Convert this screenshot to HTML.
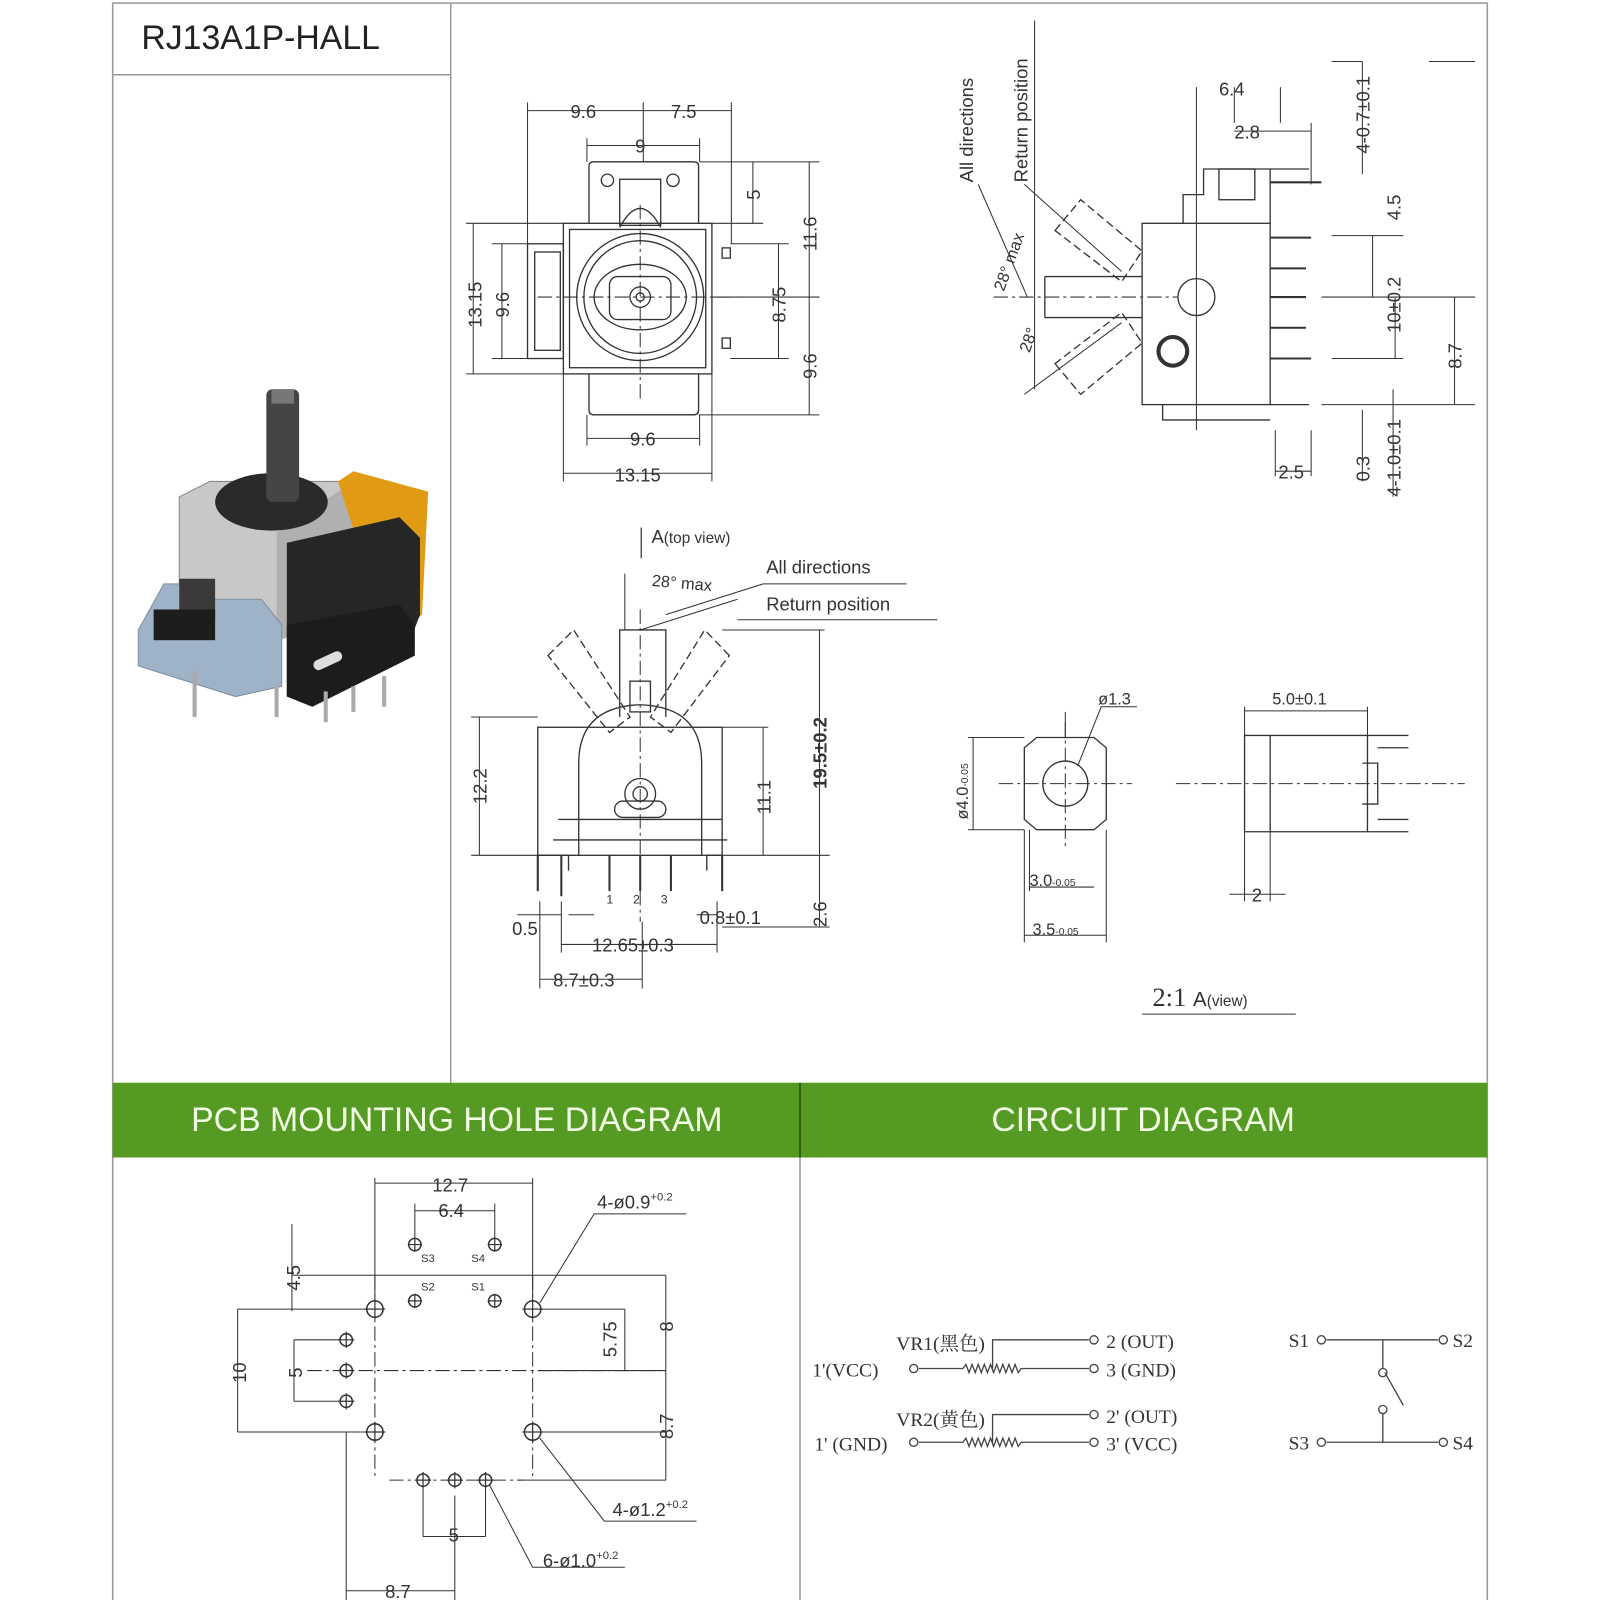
<!DOCTYPE html>
<html><head><meta charset="utf-8"><style>
html,body{margin:0;padding:0;background:#fff;}
svg{display:block;}
text{font-family:"Liberation Sans",sans-serif;fill:#333;}
.s{font-family:"Liberation Serif","Noto Serif CJK SC",serif;}
</style></head><body>
<svg width="1600" height="1600" viewBox="0 0 1562 1562" xmlns="http://www.w3.org/2000/svg">
<g fill="none" stroke="#999" stroke-width="1.5">
<rect x="110" y="3" width="1342" height="1562"/>
<line x1="110" y1="73" x2="440" y2="73"/>
<line x1="440" y1="3" x2="440" y2="1057"/>
<line x1="781" y1="1130" x2="781" y2="1565"/>
</g>
<rect x="110" y="1057" width="1342" height="73" fill="#559a22"/>
<line x1="781" y1="1057" x2="781" y2="1130" stroke="#2f5f10" stroke-width="2"/>
<text x="138" y="48" font-size="33" style="fill:#222">RJ13A1P-HALL</text>
<text x="446" y="1104" font-size="33" text-anchor="middle" style="fill:#f2ffe6">PCB MOUNTING HOLE DIAGRAM</text>
<text x="1116" y="1104" font-size="33" text-anchor="middle" style="fill:#f2ffe6">CIRCUIT DIAGRAM</text>

<!-- photo -->
<g>
<polygon points="175,485 205,470 345,470 345,600 270,625 175,600" fill="#c8c8c8" stroke="#888"/>
<polygon points="270,520 345,470 345,600 270,625" fill="#b0b0b0"/>
<polygon points="330,470 345,460 418,480 412,600 385,625 375,610" fill="#e19a14"/>
<ellipse cx="265" cy="490" rx="55" ry="28" fill="#2a2a2a"/>
<rect x="260" y="380" width="32" height="110" rx="6" fill="#454545"/>
<rect x="265" y="380" width="22" height="14" fill="#777"/>
<polygon points="280,530 390,505 410,525 410,600 395,640 305,690 280,680" fill="#262626"/>
<polygon points="280,610 390,590 405,610 405,640 305,690 280,680" fill="#1c1c1c"/>
<rect x="305" y="640" width="30" height="10" rx="5" fill="#ddd" transform="rotate(-25 320 645)"/>
<polygon points="135,615 160,570 190,570 200,585 255,585 275,610 275,670 230,680 135,650" fill="#9fb3c8" stroke="#7d8fa0"/>
<rect x="175" y="565" width="35" height="40" fill="#3a3a3a"/>
<rect x="150" y="595" width="60" height="30" fill="#1d1d1d"/>
<g stroke="#aaa" stroke-width="4"><line x1="190" y1="655" x2="190" y2="700"/><line x1="270" y1="670" x2="270" y2="700"/><line x1="318" y1="675" x2="318" y2="705"/><line x1="345" y1="670" x2="345" y2="695"/><line x1="375" y1="660" x2="375" y2="690"/></g>
</g>

<g fill="none" stroke="#333" stroke-width="1.3">
<!-- top view -->
<rect x="550" y="218" width="145" height="147"/>
<rect x="556" y="224" width="133" height="135"/>
<path d="M575,218 V162 Q575,158 580,158 H677 Q682,158 682,162 V218"/>
<rect x="515" y="238" width="35" height="112"/>
<rect x="522" y="246" width="25" height="96"/>
<path d="M575,365 V400 Q575,405 580,405 H677 Q682,405 682,400 V365"/>
<circle cx="625" cy="290" r="62"/><circle cx="625" cy="290" r="55"/>
<ellipse cx="625" cy="290" rx="45" ry="32"/>
<rect x="595" y="270" width="60" height="42" rx="8"/>
<circle cx="625" cy="290" r="10"/><circle cx="625" cy="290" r="4"/>
<path d="M605,222 Q625,185 645,222"/><rect x="605" y="175" width="40" height="45"/>
<circle cx="593" cy="176" r="6"/><circle cx="657" cy="176" r="6"/>
<rect x="705" y="242" width="8" height="10"/><rect x="705" y="330" width="8" height="10"/>
<g stroke-width="1"><path d="M515,100 V238 M628,100 V158 M714,100 V238 M573,135 V158 M683,135 V158 M683,158 H745 M695,218 H745 M695,290 H800 M713,238 H770 M713,350 H770 M682,405 H800 M683,158 H800 M455,218 H550 M455,365 H550 M480,238 H515 M480,350 H515 M550,365 V470 M695,365 V470 M573,405 V435 M683,405 V435"/>
<path d="M515,108 H714 M573,142 H683 M735,158 V218 M790,158 V405 M760,238 V350 M462,218 V365 M490,238 V350 M573,428 H683 M550,462 H695"/></g>
<path d="M525,290 H720 M625,200 V390" stroke-dasharray="14,4,3,4" stroke-width="1"/>

<!-- side view -->
<rect x="1115" y="218" width="125" height="177"/>
<path d="M1155,218 V190 H1175 V165 H1240 V218 M1240,165 H1278 M1240,395 H1278 M1135,395 V410 H1240"/>
<rect x="1190" y="165" width="35" height="30"/>
<path d="M1020,270 H1115 M1020,310 H1115 M1020,270 V310"/>
<g stroke-dasharray="8,4"><path d="M1030,225 L1055,195 L1115,245 L1095,275 Z M1030,355 L1055,385 L1115,335 L1095,305 Z"/></g>
<circle cx="1168" cy="290" r="18"/>
<circle cx="1145" cy="343" r="14" stroke-width="4"/>
<g stroke-width="2"><path d="M1240,232 H1280 M1240,262 H1275 M1240,290 H1275 M1240,320 H1275 M1240,350 H1280 M1240,178 H1290"/></g>
<g stroke-width="1"><path d="M1168,85 V420 M1205,85 V120 M1250,85 V120 M1205,128 H1280 M1280,120 V180 M1300,230 H1370 M1300,350 H1370 M1290,395 H1440 M1290,290 H1440 M1245,420 V465 M1280,420 V465 M1245,460 H1280 M1395,60 H1440 M1300,60 H1330 M1330,60 V170 M1340,230 V290 M1362,290 V350 M1420,290 V395 M1330,400 V470 M1360,380 V485"/></g>
<path d="M970,290 H1150" stroke-dasharray="14,4,3,4" stroke-width="1"/>
<path d="M1000,180 L1095,265 M1000,385 L1095,315 M1010,20 L1010,380 M955,180 L1003,290" stroke-width="1"/>

<!-- front view -->
<rect x="525" y="710" width="180" height="125"/>
<path d="M565,835 V745 Q565,690 625,688 Q685,690 685,745 V835"/>
<path d="M605,700 V615 H650 V700"/><rect x="615" y="665" width="20" height="30"/>
<g stroke-dasharray="8,4"><path d="M535,640 L560,615 L615,700 L595,715 Z M712,640 L688,615 L635,700 L655,715 Z"/></g>
<circle cx="625" cy="775" r="15"/><circle cx="625" cy="775" r="7"/>
<rect x="600" y="782" width="50" height="16" rx="8"/>
<path d="M545,800 H705 M540,820 H710 M525,835 H555 V850 M705,835 H690 V850"/>
<g stroke-width="2"><path d="M525,835 V870 M548,835 V875 M595,835 V870 M625,835 V870 M655,835 V870 M705,835 V870"/></g>
<g stroke-width="1"><path d="M460,700 H525 M460,835 H525 M705,710 H750 M705,615 H805 M705,835 H810 M705,905 H810 M468,700 V835 M745,710 V835 M800,615 V835 M800,835 V905 M548,880 V930 M700,880 V930 M527,880 V965 M627,900 V965 M548,922 H700 M527,956 H627 M505,893 H548 M555,893 H580 M680,893 H700 M610,560 V615 M625,615 L720,585 M650,600 L745,570 H885 M720,605 H915"/></g>
<path d="M625,595 V900" stroke-dasharray="14,4,3,4" stroke-width="1"/>
<path d="M626,515 V545" stroke-width="1.2"/>

<!-- A view -->
<path d="M1000,730 L1012,720 H1068 L1080,730 V800 L1068,810 H1012 L1000,800 Z"/>
<circle cx="1040" cy="765" r="22"/>
<g stroke-width="1"><path d="M1040,695 V720 M1052,748 L1075,690 L1110,690 M945,720 H1000 M945,810 H1000 M950,720 V810 M1000,810 V920 M1005,810 V870 M1080,810 V920 M1005,866 H1068 M1000,913 H1080 M1215,690 V718 M1335,690 V718 M1215,694 H1335 M1215,812 V880 M1240,812 V880 M1200,873 H1255"/>
<path d="M1215,718 H1375 M1215,812 H1375 M1215,718 V812 M1240,718 V812 M1335,718 V812 M1345,730 H1375 M1345,800 H1375 M1330,745 H1345 V785 H1330" stroke-width="1.3"/>
<path d="M1115,990 H1265"/></g>
<path d="M975,765 H1105 M1040,705 V830 M1148,765 H1430" stroke-dasharray="14,4,3,4" stroke-width="1"/>

<!-- PCB -->
<g stroke-width="1"><path d="M366,1150 V1278 M520,1150 V1278 M366,1155 H520 M405,1175 V1215 M483,1175 V1215 M405,1182 H483 M285,1195 V1280 M285,1245 H650 M520,1278 H610 M232,1278 H366 M232,1278 V1398 M232,1398 H366 M287,1308 H338 M287,1368 H338 M287,1308 V1368 M525,1338 H650 M610,1278 V1338 M650,1245 V1445 M520,1398 H650 M505,1445 H650 M413,1445 V1500 M474,1445 V1500 M413,1500 H474 M338,1398 V1565 M338,1553 H444 M444,1460 V1565 M527,1272 L580,1185 H670 M527,1404 L590,1485 H680 M478,1450 L520,1530 H610"/></g>
<path d="M366,1245 V1445 M520,1245 V1445 M300,1338 H650 M380,1445 H510" stroke-dasharray="14,4,3,4" stroke-width="1"/>
</g>
<g fill="#fff" stroke="#333" stroke-width="1.5">
<circle cx="405" cy="1215" r="6"/><circle cx="483" cy="1215" r="6"/><circle cx="405" cy="1270" r="6"/><circle cx="483" cy="1270" r="6"/>
<circle cx="366" cy="1278" r="8"/><circle cx="520" cy="1278" r="8"/><circle cx="366" cy="1398" r="8"/><circle cx="520" cy="1398" r="8"/>
<circle cx="338" cy="1308" r="6"/><circle cx="338" cy="1338" r="6"/><circle cx="338" cy="1368" r="6"/>
<circle cx="413" cy="1445" r="6"/><circle cx="444" cy="1445" r="6"/><circle cx="474" cy="1445" r="6"/>
</g>
<g stroke="#333" stroke-width="1.2"><path d="M398,1215 H412 M405,1208 V1222 M476,1215 H490 M483,1208 V1222 M398,1270 H412 M405,1263 V1277 M476,1270 H490 M483,1263 V1277 M356,1278 H376 M366,1268 V1288 M510,1278 H530 M520,1268 V1288 M356,1398 H376 M366,1388 V1408 M510,1398 H530 M520,1388 V1408 M330,1308 H346 M338,1300 V1316 M330,1338 H346 M338,1330 V1346 M330,1368 H346 M338,1360 V1376 M405,1445 H421 M413,1437 V1453 M436,1445 H452 M444,1437 V1453 M466,1445 H482 M474,1437 V1453"/></g>

<!-- circuit -->
<g fill="none" stroke="#444" stroke-width="1.3">
<path d="M897,1336 H940 L943,1332 L946,1340 L949,1332 L952,1340 L955,1332 L958,1340 L961,1332 L964,1340 L967,1332 L970,1340 L973,1332 L976,1340 L979,1332 L982,1340 L985,1332 L988,1340 L991,1332 L994,1340 L997,1336 H1063 M969,1336 V1308 H1063"/>
<path d="M897,1408 H940 L943,1404 L946,1412 L949,1404 L952,1412 L955,1404 L958,1412 L961,1404 L964,1412 L967,1404 L970,1412 L973,1404 L976,1412 L979,1404 L982,1412 L985,1404 L988,1412 L991,1404 L994,1412 L997,1408 H1063 M969,1408 V1381 H1063"/>
<path d="M1295,1308 H1404 M1295,1408 H1404 M1350,1308 V1336 M1350,1380 V1408 M1352,1340 L1370,1372"/>
<circle cx="892" cy="1336" r="4"/><circle cx="1068" cy="1308" r="4"/><circle cx="1068" cy="1336" r="4"/>
<circle cx="892" cy="1408" r="4"/><circle cx="1068" cy="1381" r="4"/><circle cx="1068" cy="1408" r="4"/>
<circle cx="1290" cy="1308" r="4"/><circle cx="1409" cy="1308" r="4"/><circle cx="1290" cy="1408" r="4"/><circle cx="1409" cy="1408" r="4"/>
<circle cx="1350" cy="1340" r="4"/><circle cx="1350" cy="1376" r="4"/>
</g>
<g class="s" font-size="19" style="fill:#333">
<text class="s" x="875" y="1318">VR1(黑色)</text>
<text class="s" x="793" y="1344">1'(VCC)</text>
<text class="s" x="1080" y="1316">2 (OUT)</text>
<text class="s" x="1080" y="1344">3 (GND)</text>
<text class="s" x="875" y="1392">VR2(黄色)</text>
<text class="s" x="795" y="1416">1' (GND)</text>
<text class="s" x="1080" y="1389">2' (OUT)</text>
<text class="s" x="1080" y="1416">3' (VCC)</text>
<text class="s" x="1258" y="1315">S1</text><text class="s" x="1418" y="1315">S2</text>
<text class="s" x="1258" y="1415">S3</text><text class="s" x="1418" y="1415">S4</text>
</g>

<!-- labels -->
<g font-size="18">
<text x="557" y="115">9.6</text><text x="655" y="115">7.5</text><text x="620" y="149">9</text>
<text x="615" y="435">9.6</text><text x="600" y="470">13.15</text>
<text transform="translate(742,195) rotate(-90)">5</text>
<text transform="translate(797,245) rotate(-90)">11.6</text>
<text transform="translate(767,315) rotate(-90)">8.75</text>
<text transform="translate(797,370) rotate(-90)">9.6</text>
<text transform="translate(470,320) rotate(-90)">13.15</text>
<text transform="translate(497,310) rotate(-90)">9.6</text>
<text x="1190" y="93">6.4</text><text x="1205" y="135">2.8</text>
<text transform="translate(1337,150) rotate(-90)">4-0.7±0.1</text>
<text transform="translate(1367,215) rotate(-90)">4.5</text>
<text transform="translate(1367,325) rotate(-90)">10±0.2</text>
<text transform="translate(1427,360) rotate(-90)">8.7</text>
<text transform="translate(1337,470) rotate(-90)">0.3</text>
<text transform="translate(1367,485) rotate(-90)">4-1.0±0.1</text>
<text x="1248" y="467">2.5</text>
<text transform="translate(950,178) rotate(-90)">All directions</text>
<text transform="translate(1003,178) rotate(-90)">Return position</text>
<text transform="translate(980,285) rotate(-70)" font-size="16">28° max</text>
<text transform="translate(1005,345) rotate(-70)" font-size="16">28°</text>
<text x="636" y="530">A<tspan font-size="15">(top view)</tspan></text>
<text x="636" y="572" font-size="16" transform="rotate(5 636 572)">28° max</text>
<text x="748" y="560">All directions</text>
<text x="748" y="596">Return position</text>
<text transform="translate(475,785) rotate(-90)">12.2</text>
<text transform="translate(752,795) rotate(-90)">11.1</text>
<text transform="translate(807,770) rotate(-90)" style="font-weight:bold">19.5±0.2</text>
<text transform="translate(807,905) rotate(-90)">2.6</text>
<text x="500" y="913">0.5</text><text x="683" y="902">0.8±0.1</text>
<text x="578" y="929">12.65±0.3</text><text x="540" y="963">8.7±0.3</text>
<text x="592" y="882" font-size="12">1</text><text x="618" y="882" font-size="12">2</text><text x="645" y="882" font-size="12">3</text>
<text x="1072" y="688" font-size="16">ø1.3</text>
<text x="1242" y="688" font-size="16">5.0±0.1</text>
<text transform="translate(945,800) rotate(-90)" font-size="16">ø4.0<tspan font-size="10">-0.05</tspan></text>
<text x="1005" y="865" font-size="16">3.0<tspan font-size="10">-0.05</tspan></text>
<text x="1008" y="913" font-size="16">3.5<tspan font-size="10">-0.05</tspan></text>
<text x="1222" y="880">2</text>
<text x="1125" y="982" font-size="26" class="s">2:1 <tspan font-family="Liberation Sans" font-size="20">A<tspan font-size="15">(view)</tspan></tspan></text>
<text x="422" y="1163">12.7</text><text x="428" y="1188">6.4</text>
<text x="583" y="1180">4-ø0.9<tspan font-size="11" dy="-8">+0.2</tspan></text>
<text x="598" y="1480">4-ø1.2<tspan font-size="11" dy="-8">+0.2</tspan></text>
<text x="530" y="1530">6-ø1.0<tspan font-size="11" dy="-8">+0.2</tspan></text>
<text transform="translate(293,1260) rotate(-90)">4.5</text>
<text transform="translate(240,1350) rotate(-90)">10</text>
<text transform="translate(295,1345) rotate(-90)">5</text>
<text transform="translate(602,1325) rotate(-90)">5.75</text>
<text transform="translate(657,1300) rotate(-90)">8</text>
<text transform="translate(657,1405) rotate(-90)">8.7</text>
<text x="438" y="1505">5</text><text x="376" y="1560">8.7</text>
<text x="411" y="1232" font-size="11">S3</text><text x="460" y="1232" font-size="11">S4</text>
<text x="411" y="1260" font-size="11">S2</text><text x="460" y="1260" font-size="11">S1</text>
</g>
</svg>
</body></html>
